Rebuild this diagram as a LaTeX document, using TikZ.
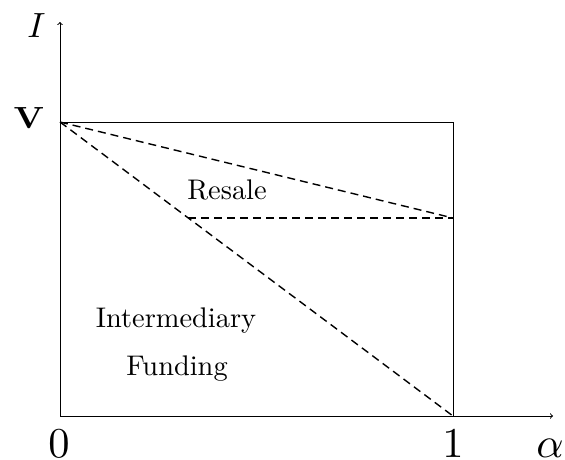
\documentclass[tikz,border=0pt]{standalone}
\usepackage{amsmath}
\begin{document}
\begin{tikzpicture}[x=1pt,y=-1pt,
  axis/.style={line width=1pt,->},
  boxline/.style={line width=1pt},
  dashln/.style={line width=1.4pt,dash pattern=on 8pt off 5pt},
  region/.style={inner sep=0pt,anchor=base,scale=2.84},
  bigl/.style={inner sep=0pt,anchor=base,scale=4.25}]
\useasboundingbox (0,0) rectangle (565,459);
\coordinate (O) at (60,416);
\coordinate (Ytop) at (60,22);
\coordinate (Xend) at (553,416);
\coordinate (V) at (60,122);
\coordinate (C) at (453,122);
\coordinate (B) at (453,416);
\coordinate (M) at (453,218);
\coordinate (K) at (188.3,218);
\draw[axis] (O) -- (Ytop);
\draw[axis] (O) -- (Xend);
\draw[boxline] (V) -- (C) -- (B);
\draw[dashln] (V) -- (M);
\draw[dashln] (V) -- (B);
\draw[dashln] (K) -- (M);
\node[region] (resale) at (227,199) {Resale};
\node[region] (inter) at (176,327) {Intermediary};
\node[region] (fund) at (177,375) {Funding};
\node[bigl] (zero) at (59,457) {$0$};
\node[bigl] (one) at (453,457) {$1$};
\node[bigl] (alpha) at (550,457) {$\alpha$};
\node[inner sep=0pt,anchor=base,scale=3.5] (ilab) at (36.5,37) {$I$};
\node[inner sep=0pt,anchor=base,xscale=3.5,yscale=3.06] (vlab) at (29,128) {$\mathbf{V}$};
\end{tikzpicture}
\end{document}
